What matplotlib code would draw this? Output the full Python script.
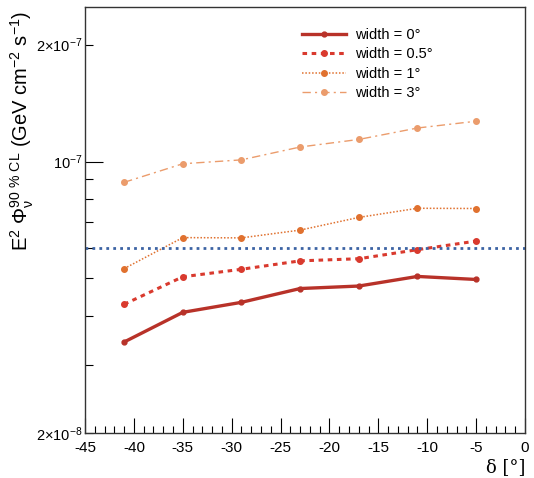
import numpy as np
import matplotlib
matplotlib.use('Agg')
import matplotlib.pyplot as plt
from matplotlib.ticker import FixedLocator, FixedFormatter, MultipleLocator

plt.rcParams['font.family'] = ['Liberation Sans', 'DejaVu Sans']
plt.rcParams['mathtext.fontset'] = 'custom'
plt.rcParams['mathtext.rm'] = 'Liberation Sans'
plt.rcParams['mathtext.it'] = 'Liberation Sans'
plt.rcParams['axes.unicode_minus'] = False

# declination of the sources [deg]
delta = [-41, -35, -29, -23, -17, -11, -5]

# 90% CL flux limits for each source extension
flux_w0 = [3.43e-8, 4.09e-8, 4.34e-8, 4.71e-8, 4.78e-8, 5.06e-8, 4.97e-8]
flux_w05 = [4.29e-8, 5.05e-8, 5.28e-8, 5.55e-8, 5.62e-8, 5.93e-8, 6.24e-8]
flux_w1 = [5.30e-8, 6.37e-8, 6.36e-8, 6.66e-8, 7.18e-8, 7.58e-8, 7.57e-8]
flux_w3 = [8.84e-8, 9.87e-8, 1.01e-7, 1.09e-7, 1.14e-7, 1.22e-7, 1.27e-7]
ref_level = 6e-8

labels = ['width = 0°', 'width = 0.5°', 'width = 1°', 'width = 3°']

fig = plt.figure(figsize=(5.34, 4.78), dpi=100)
ax = fig.add_axes([85 / 534, 1 - 433 / 478, 440 / 534, 426 / 478])

ax.plot(delta, flux_w0, color='#b83229', lw=2.4, ls='-',
        marker='o', ms=3.5, label=labels[0])
ax.plot(delta, flux_w05, color='#d93a2e', lw=2.2, ls=(0, (1.5, 1.5)),
        marker='o', ms=4, label=labels[1])
ax.plot(delta, flux_w1, color='#e0712f', lw=1.1, ls=(0, (1, 1.2)),
        marker='o', ms=4, label=labels[2])
ax.plot(delta, flux_w3, color='#eb9c6c', lw=1.0, ls=(0, (6, 3, 1.5, 3)),
        marker='o', ms=4, label=labels[3])
ax.axhline(ref_level, color='#3c63a4', lw=2, ls=(0, (1, 1.5)))

ax.set_yscale('log')
ax.set_xlim(-45, 0)
ax.set_ylim(2e-8, 2.5e-7)

ax.xaxis.set_major_locator(MultipleLocator(5))
ax.xaxis.set_minor_locator(MultipleLocator(1))
ax.yaxis.set_major_locator(FixedLocator([1e-7]))
ax.yaxis.set_major_formatter(FixedFormatter([r'$10^{-7}$']))
minor_y = [2e-8, 3e-8, 4e-8, 5e-8, 6e-8, 7e-8, 8e-8, 9e-8, 2e-7]
ax.yaxis.set_minor_locator(FixedLocator(minor_y))
ax.yaxis.set_minor_formatter(FixedFormatter(
    [r'$2{\times}10^{-8}$', '', '', '', '', '', '', '', r'$2{\times}10^{-7}$']))

ax.tick_params(axis='x', which='major', direction='in', length=11, width=0.8,
               labelsize=11, pad=6, top=False)
ax.tick_params(axis='x', which='minor', direction='in', length=5, width=0.8, top=False)
ax.tick_params(axis='y', which='major', direction='in', length=13, width=0.8,
               labelsize=10.5, pad=2, right=False)
ax.tick_params(axis='y', which='minor', direction='in', length=6, width=0.8,
               labelsize=10.5, pad=2, right=False)
for s in ax.spines.values():
    s.set_linewidth(1.0)
    s.set_color('#333333')

ax.set_xlabel('δ [°]', loc='right', fontsize=13, family='DejaVu Serif', labelpad=2)
ax.set_ylabel(r'E$^{2}$ $\Phi_{\nu}^{90\ \%\ CL}$ (GeV cm$^{-2}$ s$^{-1}$)',
              loc='top', fontsize=14.5)
ax.yaxis.set_label_coords(-0.112, 0.99)

ax.legend(loc='upper left', bbox_to_anchor=(0.48, 0.965), frameon=False,
          fontsize=10.5, handlelength=3.0, handletextpad=0.6,
          labelspacing=0.38, borderaxespad=0)

fig.savefig('out.png', dpi=100)
